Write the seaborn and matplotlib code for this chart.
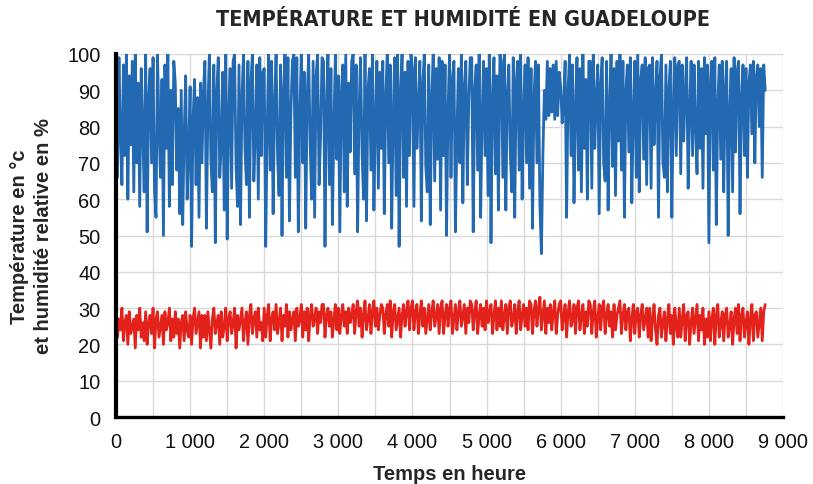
import numpy as np
import pandas as pd
import matplotlib
matplotlib.use("Agg")
import matplotlib.pyplot as plt
import seaborn as sns
from matplotlib.ticker import MultipleLocator, FuncFormatter

# Sampling step of the records, in hours
step_hours = 20

# Relative humidity (%), one reading per step (20 readings = 400 h per row)
humidity = [
    95, 66, 99, 78, 64, 97, 72, 100, 60, 94, 75, 98, 62, 100, 70, 92, 58, 96, 80, 62,
    100, 51, 88, 96, 70, 99, 62, 55, 100, 80, 66, 93, 50, 97, 74, 100, 58, 90, 64, 98,
    92, 68, 85, 56, 90, 53, 78, 94, 60, 73, 91, 47, 82, 93, 64, 88, 55, 92, 70, 90,
    98, 52, 85, 100, 71, 62, 97, 48, 90, 99, 66, 75, 95, 57, 100, 49, 84, 96, 63, 98,
    100, 69, 58, 97, 53, 88, 100, 74, 64, 98, 55, 92, 100, 65, 78, 97, 60, 99, 72, 95,
    96, 47, 80, 100, 68, 98, 56, 86, 100, 72, 61, 97, 50, 90, 100, 66, 99, 54, 84, 98,
    100, 66, 99, 51, 83, 100, 70, 95, 52, 88, 100, 75, 60, 98, 55, 94, 100, 64, 77, 99,
    98, 47, 86, 100, 64, 96, 53, 80, 100, 71, 94, 51, 89, 97, 62, 100, 58, 92, 73, 98,
    100, 67, 97, 51, 85, 99, 73, 60, 100, 54, 90, 96, 68, 100, 57, 82, 98, 63, 95, 74,
    98, 56, 88, 100, 70, 97, 52, 83, 99, 61, 100, 47, 90, 100, 66, 95, 58, 98, 72, 100,
    96, 58, 99, 74, 85, 98, 54, 92, 100, 69, 62, 97, 53, 88, 100, 65, 96, 71, 99, 57,
    98, 72, 97, 50, 84, 100, 66, 93, 98, 51, 78, 96, 70, 100, 59, 91, 98, 64, 87, 99,
    99, 51, 90, 97, 68, 100, 55, 83, 98, 72, 96, 61, 100, 48, 88, 99, 67, 94, 57, 100,
    98, 66, 100, 57, 89, 97, 73, 62, 99, 55, 92, 98, 68, 100, 60, 85, 97, 70, 99, 63,
    96, 52, 88, 98, 70, 97, 58, 45, 72, 90, 82, 98, 83, 96, 84, 97, 82, 98, 83, 95,
    91, 81, 86, 98, 55, 90, 100, 72, 97, 59, 85, 99, 68, 96, 62, 100, 74, 93, 60, 98,
    98, 63, 100, 74, 88, 97, 56, 92, 99, 70, 65, 98, 57, 86, 100, 69, 96, 61, 98, 76,
    100, 68, 98, 55, 90, 97, 73, 99, 59, 84, 98, 66, 100, 62, 93, 97, 71, 99, 64, 96,
    97, 63, 99, 75, 88, 98, 55, 94, 100, 70, 66, 97, 62, 90, 98, 55, 86, 99, 72, 97,
    98, 67, 97, 76, 90, 99, 63, 85, 98, 72, 97, 80, 67, 98, 74, 96, 63, 99, 78, 97,
    48, 92, 98, 68, 99, 53, 86, 97, 71, 98, 62, 90, 98, 50, 84, 96, 62, 99, 73, 95,
    98, 56, 88, 97, 72, 96, 66, 92, 97, 78, 98, 70, 94, 97, 80, 96, 66, 97, 90,
]

# Air temperature (°C), one reading per step (20 readings = 400 h per row)
temperature = [
    29, 22, 27, 24, 30, 21, 26, 28, 20, 29, 23, 25, 27, 19, 28, 24, 30, 22, 26, 21,
    29, 20, 26, 28, 23, 30, 19, 27, 29, 22, 25, 28, 20, 29, 24, 26, 30, 21, 27, 22,
    29, 23, 27, 19, 26, 28, 21, 29, 24, 22, 28, 20, 27, 30, 23, 26, 29, 19, 28, 22,
    28, 21, 29, 24, 19, 27, 30, 23, 26, 28, 20, 29, 22, 25, 30, 21, 27, 29, 23, 26,
    30, 19, 28, 24, 27, 30, 21, 26, 29, 20, 28, 31, 23, 27, 29, 22, 30, 24, 26, 21,
    30, 22, 28, 31, 21, 27, 29, 24, 31, 23, 26, 30, 21, 28, 25, 31, 22, 29, 24, 27,
    29, 21, 30, 25, 27, 31, 22, 29, 24, 30, 21, 28, 31, 25, 27, 30, 23, 29, 26, 31,
    31, 22, 28, 30, 25, 29, 22, 27, 31, 24, 30, 23, 28, 31, 25, 29, 23, 30, 26, 28,
    31, 23, 29, 32, 25, 30, 22, 28, 32, 24, 27, 31, 23, 29, 32, 25, 30, 24, 28, 31,
    30, 23, 28, 31, 25, 32, 22, 29, 31, 24, 27, 30, 22, 28, 31, 25, 29, 32, 24, 30,
    32, 24, 29, 31, 23, 28, 32, 25, 30, 23, 27, 31, 24, 29, 32, 25, 28, 31, 23, 30,
    32, 23, 28, 31, 25, 30, 32, 23, 27, 31, 24, 29, 32, 25, 28, 31, 23, 30, 26, 32,
    31, 24, 29, 32, 23, 28, 31, 25, 30, 24, 32, 26, 29, 31, 23, 28, 32, 24, 30, 25,
    32, 24, 28, 31, 23, 30, 32, 25, 27, 31, 23, 29, 32, 24, 28, 31, 25, 30, 24, 32,
    31, 23, 29, 32, 25, 30, 33, 24, 28, 32, 23, 30, 26, 31, 24, 29, 32, 23, 28, 31,
    32, 24, 28, 31, 22, 29, 32, 25, 27, 31, 23, 30, 32, 24, 28, 31, 23, 29, 25, 32,
    31, 23, 29, 32, 22, 27, 31, 24, 30, 32, 23, 28, 31, 25, 29, 22, 31, 24, 28, 30,
    32, 23, 28, 31, 24, 29, 30, 21, 27, 31, 23, 29, 30, 22, 28, 31, 24, 27, 30, 22,
    30, 21, 27, 31, 24, 20, 28, 30, 22, 26, 29, 21, 27, 31, 23, 28, 20, 30, 25, 22,
    30, 22, 27, 31, 21, 28, 29, 20, 26, 30, 23, 27, 31, 21, 28, 24, 30, 20, 27, 22,
    29, 21, 27, 30, 20, 28, 31, 22, 26, 29, 21, 28, 30, 22, 25, 29, 20, 27, 30, 23,
    31, 21, 28, 30, 22, 26, 29, 20, 27, 31, 21, 28, 29, 22, 26, 30, 21, 29, 31,
]

hours = np.arange(len(humidity)) * step_hours
df = pd.DataFrame({"heure": hours, "humidite": humidity, "temperature": temperature})

sns.set_theme(style="white")
plt.rcParams["font.family"] = ["Liberation Sans", "DejaVu Sans"]

fig = plt.figure(figsize=(8.13, 4.85), dpi=100)
ax = fig.add_axes([116 / 813, 1 - 418 / 485, (783 - 116) / 813, (418 - 55) / 485])

blue = "#2269b2"
red = "#e3221b"
sns.lineplot(data=df, x="heure", y="humidite", ax=ax, color=blue, lw=2.0,
             estimator=None, sort=False)
sns.lineplot(data=df, x="heure", y="temperature", ax=ax, color=red, lw=2.0,
             estimator=None, sort=False)

ax.set_xlim(0, 9000)
ax.set_ylim(0, 100)
ax.xaxis.set_major_locator(MultipleLocator(1000))
ax.xaxis.set_minor_locator(MultipleLocator(500))
ax.yaxis.set_major_locator(MultipleLocator(10))
ax.xaxis.set_major_formatter(FuncFormatter(lambda v, p: f"{int(v):,}".replace(",", " ")))

ax.grid(True, which="both", axis="x", color="#d9d9d9", lw=1.0)
ax.grid(True, which="major", axis="y", color="#d9d9d9", lw=1.0)
ax.set_axisbelow(True)

for side in ("top", "right"):
    ax.spines[side].set_visible(False)
ax.spines["left"].set_color("black")
ax.spines["left"].set_linewidth(3.0)
ax.spines["bottom"].set_color("black")
ax.spines["bottom"].set_linewidth(2.4)

ax.tick_params(axis="both", which="both", length=0, labelsize=14.4, colors="#111111")
ax.tick_params(axis="x", pad=11)
ax.tick_params(axis="y", pad=11)

ax.set_xlabel("Temps en heure", fontsize=14.5, fontweight="bold", labelpad=9)
ax.set_ylabel("Température en °c\net humidité relative en %", fontsize=14.5,
              fontweight="bold", labelpad=10, linespacing=1.35)

fig.text(463 / 813, 1 - 20 / 485, "TEMPÉRATURE ET HUMIDITÉ EN GUADELOUPE",
         ha="center", va="center", fontsize=15.5, fontweight="bold",
         family=["DejaVu Sans"], fontstretch="condensed")

fig.savefig("out.png", dpi=100)
